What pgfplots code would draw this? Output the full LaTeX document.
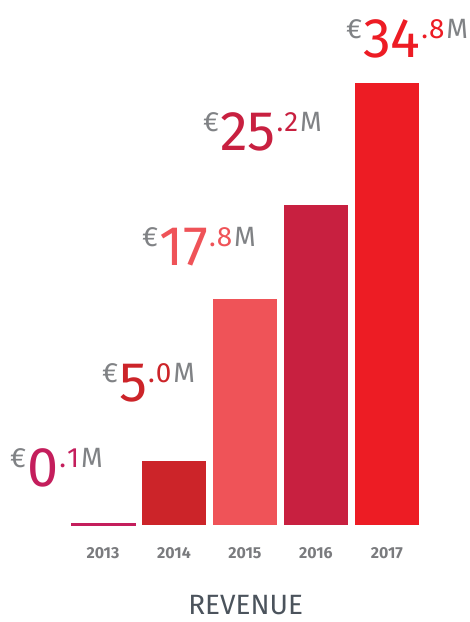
\documentclass[border=0pt]{standalone}
\usepackage{pgfplots}
\pgfplotsset{compat=1.18}
\usepackage{fontspec}
\setmainfont{Fira Sans}
\definecolor{c13}{HTML}{C41E5C}
\definecolor{c14}{HTML}{CC2429}
\definecolor{c15}{HTML}{EF5358}
\definecolor{c16}{HTML}{C82040}
\definecolor{c17}{HTML}{ED1C24}
\definecolor{txtgrey}{HTML}{808285}
\definecolor{yeargrey}{HTML}{7A7B7E}
\definecolor{revgrey}{HTML}{4B535C}
\newcommand{\lab}[3]{{\fontsize{28}{28}\selectfont\color{txtgrey}\raisebox{19bp}{€}\hspace{1bp}}{\fontsize{56}{56}\selectfont\color{#1}#2}{\fontsize{28}{28}\selectfont\raisebox{19bp}{\hspace{1bp}\color{#1}.\hspace{1bp}#3\hspace{2bp}\color{txtgrey}M}}}
\begin{document}
\begin{tikzpicture}
\begin{axis}[
  scale only axis, width=470bp, height=622bp,
  xmin=-1.4507, xmax=5.169, ymin=-7.638, ymax=41.34,
  axis line style={draw=none},
  ytick=\empty,
  xtick={0,1,2,3,4},
  xticklabels={2013,2014,2015,2016,2017},
  major tick length=0pt,
  xticklabel style={anchor=base, yshift=63bp, font=\fontsize{16}{16}\selectfont\bfseries, text=yeargrey},
  ybar, bar width=64bp, bar shift=0pt,
  clip=false,
]
\addplot[fill=c13, draw=c13, line width=0.5bp] coordinates {(0,0.1)};
\addplot[fill=c14, draw=none] coordinates {(1,5.0)};
\addplot[fill=c15, draw=none] coordinates {(2,17.8)};
\addplot[fill=c16, draw=none] coordinates {(3,25.2)};
\addplot[fill=c17, draw=none] coordinates {(4,34.8)};
\node[anchor=base west, inner sep=0pt] at (axis cs:-1.310,2.99) {\lab{c13}{0}{1}};
\node[anchor=base west, inner sep=0pt] at (axis cs:-0.014,9.69) {\lab{c14}{5}{0}};
\node[anchor=base west, inner sep=0pt] at (axis cs:0.549,20.47) {\lab{c15}{17}{8}};
\node[anchor=base west, inner sep=0pt] at (axis cs:1.408,29.53) {\lab{c16}{25}{2}};
\node[anchor=base west, inner sep=0pt] at (axis cs:3.423,36.85) {\lab{c17}{34}{8}};
\node[anchor=base, inner sep=0pt, text=revgrey, font=\fontsize{28}{28}\selectfont] at (axis cs:2.01,-7.05) {REVENUE};
\path (rel axis cs:0,0) rectangle (rel axis cs:1,1);
\end{axis}
\end{tikzpicture}
\end{document}
